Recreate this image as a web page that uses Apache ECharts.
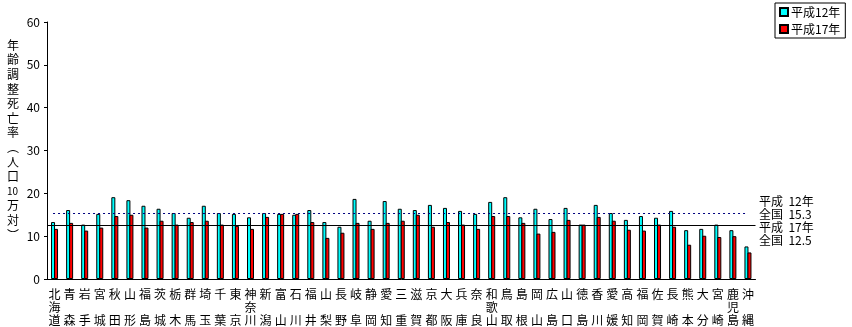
<!DOCTYPE html>
<html>
<head>
<meta charset="utf-8">
<script src="https://cdn.jsdelivr.net/npm/echarts@6/dist/echarts.min.js"></script>
<style>
html,body{margin:0;padding:0;background:#fff;}
#c{width:852px;height:327px;}
</style>
</head>
<body>
<div id="c"></div>
<script>
const prefectures = ['北海道','青森','岩手','宮城','秋田','山形','福島','茨城','栃木','群馬','埼玉','千葉','東京','神奈川','新潟','富山','石川','福井','山梨','長野','岐阜','静岡','愛知','三重','滋賀','京都','大阪','兵庫','奈良','和歌山','鳥取','島根','岡山','広島','山口','徳島','香川','愛媛','高知','福岡','佐賀','長崎','熊本','大分','宮崎','鹿児島','沖縄'];
const h12 = [13.3,16.1,12.7,15.2,19.1,18.4,17.1,16.4,15.4,14.3,17.1,15.4,15.2,14.4,15.4,15.2,15.0,16.1,13.3,12.2,18.7,13.6,18.2,16.4,16.1,17.3,16.6,15.9,15.2,18.0,19.1,14.4,16.4,14.0,16.6,12.7,17.3,15.4,13.8,14.7,14.3,15.9,11.4,11.7,12.7,11.4,7.6];
const h17 = [11.7,13.1,11.3,12.0,14.7,15.0,12.0,13.6,12.7,13.3,13.6,12.7,12.4,11.7,14.5,15.2,15.2,13.3,9.6,10.8,13.1,11.7,13.1,13.6,15.0,12.2,13.3,12.7,11.7,14.7,14.7,13.1,10.6,11.0,13.8,12.7,14.5,13.6,11.5,11.3,12.7,12.2,8.0,10.1,9.8,10.0,6.2];
const seriesNames = ['平成12年','平成17年'];
const national = [15.3, 12.5];
const yTitleLines = ['年','齢','調','整','死','亡','率','︵','人','口','10','万','対','︶'];

const FONT = '"Noto Sans CJK JP", sans-serif';
const chart = echarts.init(document.getElementById('c'));

const annoLines = [
  '平成  12年', '全国  ' + national[0].toFixed(1),
  '平成  17年', '全国  ' + national[1].toFixed(1)
];

chart.setOption({
  animation: false,
  backgroundColor: '#fff',
  grid: {left: 47, right: 96.5, top: 22, bottom: 46, containLabel: false},
  legend: {
    orient: 'vertical',
    left: 775, top: 3,
    borderColor: '#000', borderWidth: 1,
    padding: [3, 5, 3, 4],
    itemWidth: 8, itemHeight: 8, itemGap: 5,
    icon: 'rect',
    textStyle: {fontFamily: FONT, fontSize: 12, color: '#000', padding: [0,0,0,-2]},
    data: seriesNames
  },
  xAxis: {
    type: 'category',
    data: prefectures,
    axisLine: {lineStyle: {color: '#000', width: 1}},
    axisTick: {show: false},
    axisLabel: {
      interval: 0, margin: 9, lineHeight: 13,
      fontFamily: FONT, fontSize: 12, color: '#000',
      formatter: function (v) {
        const ch = Array.from(v);
        if (ch.length === 2) return ch[0] + '\n\n' + ch[1];
        return ch.join('\n');
      }
    }
  },
  yAxis: {
    type: 'value', min: 0, max: 60, interval: 10,
    axisLine: {show: true, lineStyle: {color: '#000', width: 1}},
    axisTick: {show: true, inside: false, length: 3, lineStyle: {color: '#000'}},
    splitLine: {show: false},
    axisLabel: {fontFamily: FONT, fontSize: 12, color: '#000', margin: 7}
  },
  graphic: [
    {
      type: 'text', left: 7, top: 38,
      style: {
        text: yTitleLines.map(s => s === '10' ? '{s|10}' : s).join('\n'),
        font: '12px ' + FONT, fill: '#000', lineHeight: 14.6, align: 'center',
        rich: {s: {fontSize: 10, fontFamily: FONT, lineHeight: 14.6}}
      }
    },
    {
      type: 'text', left: 759, top: 195,
      style: {
        text: annoLines.join('\n'),
        font: '12px ' + FONT, fill: '#000', lineHeight: 13
      }
    }
  ],
  series: [
    {
      name: seriesNames[0], type: 'bar', data: h12,
      barWidth: 4, barGap: '-25%',
      itemStyle: {color: '#00FFFF', borderColor: '#000', borderWidth: 1},
      markLine: {
        silent: true, symbol: 'none', label: {show: false},
        data: [
          [{coord: [0, national[0]], lineStyle: {color: '#000080', width: 1, type: [2, 3]}},
           {coord: [prefectures.length - 1, national[0]]}]
        ]
      },
      z: 2
    },
    {
      name: seriesNames[1], type: 'bar', data: h17,
      barWidth: 4, barGap: '-25%',
      itemStyle: {color: '#FF0000', borderColor: '#000', borderWidth: 1},
      markLine: {
        silent: true, symbol: 'none', label: {show: false},
        lineStyle: {color: '#000', width: 1, type: 'solid'},
        data: [{yAxis: national[1]}]
      },
      z: 3
    }
  ]
});
</script>
</body>
</html>
